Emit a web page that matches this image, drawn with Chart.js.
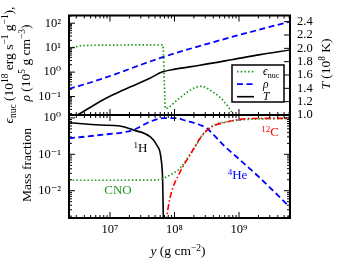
<!DOCTYPE html>
<html><head><meta charset="utf-8">
<script src="https://cdn.jsdelivr.net/npm/chart.js@4.4.1/dist/chart.umd.min.js"></script>
<style>
html,body{margin:0;padding:0;background:#fff;}
#wrap{position:relative;width:341px;height:266px;overflow:hidden;}
canvas{position:absolute;left:0;top:0;}
</style></head><body>
<div id="wrap"><canvas id="cBot" width="341" height="266"></canvas><canvas id="cTop" width="341" height="266"></canvas></div>
<script>
// ---------------- data (column depth y in g cm^-2) ----------------
const epsY = [2.31e6, 2.86e6, 4.09e6, 7.0e6, 2.04e7, 6.6e7, 7.25e7, 1.08e8, 1.55e8, 2.21e8, 2.64e8, 3.55e8, 5.07e8, 6.82e8, 8.17e8, 9.55e8];
const epsV = [8.8, 10.7, 12.3, 12.6, 12.9, 12.9, 0.032, 0.069, 0.147, 0.246, 0.262, 0.182, 0.093, 0.0374, 0.0176, 0.007];
const rhoY = [2.31e6, 7.0e6, 6.6e7, 6.1e8, 6.2e9];
const rhoV = [0.205, 0.50, 4.1, 23, 117];
const tY = [2.31e6, 3.43e6, 7.0e6, 1.11e7, 2.04e7, 4.17e7, 6.4e7, 1.02e8, 2.48e8, 8.07e8, 2.12e9, 6.2e9];
const tV = [0.93, 1.022, 1.203, 1.304, 1.420, 1.551, 1.645, 1.688, 1.746, 1.833, 1.906, 1.975];
const hY = [2.31e6, 7.0e6, 1.43e7, 2.30e7, 4.17e7, 5.30e7, 6.18e7, 6.56e7, 6.70e7, 6.75e7];
const hV = [0.738, 0.638, 0.599, 0.465, 0.305, 0.180, 0.0776, 0.0177, 0.00215, 0.0008];
const heY = [2.31e6, 7.0e6, 2.30e7, 4.17e7, 6.70e7, 1.12e8, 1.37e8, 2.48e8, 3.16e8, 5.71e8, 1.04e9, 2.12e9, 6.2e9];
const heV = [0.275, 0.339, 0.465, 0.787, 0.98, 0.98, 0.875, 0.638, 0.518, 0.180, 0.0697, 0.0223, 0.00345];
const cY = [6.87e7, 8.51e7, 1.22e8, 1.74e8, 2.48e8, 3.55e8, 6.52e8, 1.48e9, 6.2e9];
const cV = [0.00061, 0.0063, 0.0326, 0.095, 0.27, 0.528, 0.771, 0.96, 0.97];
const cnoY = [2.31e6, 1.43e7, 4.99e7, 6.70e7, 8.51e7, 1.22e8, 1.74e8, 2.21e8, 2.67e8, 3.55e8, 7.24e8, 6.2e9];
const cnoV = [0.0194, 0.0194, 0.0196, 0.0219, 0.0270, 0.0412, 0.10, 0.19, 0.33, 0.54, 0.82, 0.975];

// ---------------- tick labels ----------------
const xTicks = [1e7, 1e8, 1e9];
const topTicks = [0.1, 1, 10, 100];
const tTicks = [1.0, 1.2, 1.4, 1.6, 1.8, 2.0, 2.2, 2.4];
const massTicks = [0.01, 0.1, 1];

// ---------------- axis limits ----------------
const X_MIN = 2.314e6, X_MAX = 6.18e9;
const TOP_MIN = 0.01758, TOP_MAX = 207;
const T_MIN = 1.0, T_MAX = 2.493;
const MF_MIN = 0.00178, MF_MAX = 1.2;

// ---------------- styling ----------------
const FONT = "'Liberation Serif','DejaVu Serif',serif";
const GREEN = '#1f9a1f', BLUE = '#0000ff', RED = '#ff0000', BLACK = '#000000';
const MAJ = 6, MIN = 3;

const SUP = '⁰¹²³⁴⁵⁶⁷⁸⁹';
const sup = s => String(s).replace(/-/g, '⁻').replace(/\d/g, d => SUP[d]);
const powLabel = v => '10' + sup(Math.round(Math.log10(v)));
const pts = (xs, vs) => xs.map((x, i) => ({x, y: vs[i]}));

function drawRich(ctx, parts, cx, cy, size, color, rot, align) {
  ctx.save();
  ctx.translate(cx, cy);
  if (rot) ctx.rotate(rot);
  let total = 0;
  const items = parts.map(p => {
    const s = (p.sup || p.sub) ? size * 0.7 : size;
    const font = (p.it ? 'italic ' : '') + s + 'px ' + FONT;
    ctx.font = font;
    const w = ctx.measureText(p.t).width;
    total += w;
    return {p, font, w};
  });
  let x = align === 'left' ? 0 : align === 'right' ? -total : -total / 2;
  ctx.fillStyle = color;
  ctx.textBaseline = 'alphabetic';
  const base = size * 0.33;
  for (const it of items) {
    ctx.font = it.font;
    let y = base;
    if (it.p.sup) y -= size * 0.34;
    if (it.p.sub) y += size * 0.2;
    ctx.fillText(it.p.t, x, y);
    x += it.w;
  }
  ctx.restore();
}

function logTickList(min, max) {
  const out = [];
  for (let e = Math.floor(Math.log10(min)); e <= Math.ceil(Math.log10(max)); e++) {
    for (let m = 1; m <= 9; m++) {
      const v = m * Math.pow(10, e);
      if (v >= min * 0.9999 && v <= max * 1.0001) out.push({v, major: m === 1});
    }
  }
  return out;
}

function drawFrame(chart, leftId, mirror, rightId) {
  const {ctx, chartArea: a} = chart;
  ctx.save();
  ctx.strokeStyle = '#000';
  ctx.lineWidth = 1;
  ctx.beginPath();
  const xs = chart.scales.x;
  for (const t of logTickList(xs.min, xs.max)) {
    const p = xs.getPixelForValue(t.v), L = t.major ? MAJ : MIN;
    ctx.moveTo(p, a.top); ctx.lineTo(p, a.top + L);
    ctx.moveTo(p, a.bottom); ctx.lineTo(p, a.bottom - L);
  }
  const yl = chart.scales[leftId];
  for (const t of logTickList(yl.min, yl.max)) {
    const p = yl.getPixelForValue(t.v), L = t.major ? MAJ : MIN;
    ctx.moveTo(a.left, p); ctx.lineTo(a.left + L, p);
    if (mirror) { ctx.moveTo(a.right, p); ctx.lineTo(a.right - L, p); }
  }
  if (rightId) {
    const yr = chart.scales[rightId];
    for (const t of yr.ticks) {
      const p = yr.getPixelForValue(t.value);
      ctx.moveTo(a.right, p); ctx.lineTo(a.right - MAJ, p);
    }
  }
  ctx.stroke();
  ctx.lineWidth = 2;
  ctx.strokeRect(a.left, a.top, a.right - a.left, a.bottom - a.top);
  ctx.restore();
}

function drawLegend(chart) {
  const {ctx, chartArea: a} = chart;
  const w = 52, h = 37;
  const x0 = a.right - 6 - w, y0 = a.bottom - 13 - h;
  ctx.save();
  ctx.fillStyle = '#fff'; ctx.fillRect(x0, y0, w, h);
  ctx.strokeStyle = '#000'; ctx.lineWidth = 1.5; ctx.strokeRect(x0, y0, w, h);
  chart.data.datasets.forEach((ds, i) => {
    const y = y0 + 6.7 + i * 12.5;
    ctx.beginPath();
    ctx.setLineDash(ds.borderDash || []);
    ctx.strokeStyle = ds.borderColor; ctx.lineWidth = ds.borderWidth;
    ctx.moveTo(x0 + 5, y); ctx.lineTo(x0 + 22, y); ctx.stroke();
    ctx.setLineDash([]);
    drawRich(ctx, ds.rich, x0 + 31, y, 11.5, '#000', 0, 'left');
  });
  ctx.restore();
}

const titleEps = [{t:'ϵ',it:1},{t:'nuc',sub:1},{t:' (10'},{t:'18',sup:1},{t:' erg s'},{t:'−1',sup:1},{t:' g'},{t:'−1',sup:1},{t:'),'}];
const titleRho = [{t:'ρ',it:1},{t:' (10'},{t:'5',sup:1},{t:' g cm'},{t:'−3',sup:1},{t:')'}];
const titleT = [{t:'T',it:1},{t:' (10'},{t:'8',sup:1},{t:' K)'}];
const titleMF = [{t:'Mass fraction'}];
const titleX = [{t:'y',it:1},{t:' (g cm'},{t:'−2',sup:1},{t:')'}];

const notes = [
  {parts:[{t:'1',sup:1},{t:'H'}], x:2.97e7, y:0.149, color:BLACK},
  {parts:[{t:'CNO'}], x:1.33e7, y:0.0105, color:GREEN},
  {parts:[{t:'4',sup:1},{t:'He'}], x:9.48e8, y:0.027, color:BLUE},
  {parts:[{t:'12',sup:1},{t:'C'}], x:3.03e9, y:0.41, color:RED}
];

const common = {pointRadius: 0, fill: false, cubicInterpolationMode: 'monotone', clip: 0};
const tickFont = {family: FONT, size: 12.5};
const noGrid = {display: false, drawTicks: false, tickLength: 0};

const topPlugin = {
  id: 'topDecor',
  afterDraw(chart) {
    drawFrame(chart, 'yL', false, 'yR');
    drawLegend(chart);
    const ctx = chart.ctx;
    drawRich(ctx, titleEps, 8.5, 65, 13.5, '#000', -Math.PI / 2);
    drawRich(ctx, titleRho, 25.2, 63, 13.5, '#000', -Math.PI / 2);
    drawRich(ctx, titleT, 325.5, 64, 13.5, '#000', -Math.PI / 2);
  }
};
const botPlugin = {
  id: 'botDecor',
  afterDraw(chart) {
    drawFrame(chart, 'yB', true, null);
    const ctx = chart.ctx;
    const xs = chart.scales.x, ys = chart.scales.yB;
    for (const n of notes) drawRich(ctx, n.parts, xs.getPixelForValue(n.x), ys.getPixelForValue(n.y), 13, n.color, 0);
    drawRich(ctx, titleMF, 27, 165, 13.5, '#000', -Math.PI / 2);
    drawRich(ctx, titleX, 178, 251, 13.5, '#000', 0);
  }
};

new Chart(document.getElementById('cTop'), {
  type: 'line',
  data: {datasets: [
    Object.assign({label: 'ϵ_nuc', rich: [{t:'ϵ',it:1},{t:'nuc',sub:1}], data: pts(epsY, epsV), yAxisID: 'yL', borderColor: GREEN, borderDash: [1.5, 2.2], borderWidth: 1.7}, common),
    Object.assign({label: 'ρ', rich: [{t:'ρ',it:1}], data: pts(rhoY, rhoV), yAxisID: 'yL', borderColor: BLUE, borderDash: [6, 3.5], borderWidth: 1.8}, common),
    Object.assign({label: 'T', rich: [{t:'T',it:1}], data: pts(tY, tV), yAxisID: 'yR', borderColor: BLACK, borderWidth: 1.6}, common)
  ]},
  options: {
    responsive: false, animation: false, devicePixelRatio: 1,
    layout: {padding: {top: 12, bottom: 151, left: 0, right: 0}, autoPadding: false},
    plugins: {legend: {display: false}, tooltip: {enabled: false}},
    scales: {
      x: {type: 'logarithmic', min: X_MIN, max: X_MAX, display: false},
      yL: {type: 'logarithmic', position: 'left', min: TOP_MIN, max: TOP_MAX,
        grid: noGrid, border: {display: false},
        ticks: {font: tickFont, color: '#000', padding: 8, autoSkip: false, callback: v => powLabel(v)},
        afterBuildTicks: s => { s.ticks = topTicks.map(v => ({value: v})); },
        afterFit: s => { s.width = 69; }},
      yR: {type: 'linear', position: 'right', min: T_MIN, max: T_MAX,
        grid: noGrid, border: {display: false},
        ticks: {font: tickFont, color: '#000', padding: 7, autoSkip: false, callback: v => Number(v).toFixed(1)},
        afterBuildTicks: s => { s.ticks = tTicks.map(v => ({value: v})); },
        afterFit: s => { s.width = 51; }}
    }
  },
  plugins: [topPlugin]
});

new Chart(document.getElementById('cBot'), {
  type: 'line',
  data: {datasets: [
    Object.assign({label: '12C', data: pts(cY, cV), yAxisID: 'yB', borderColor: RED, borderDash: [6, 2.5, 1.5, 2.5], borderWidth: 1.6}, common),
    Object.assign({label: 'CNO', data: pts(cnoY, cnoV), yAxisID: 'yB', borderColor: GREEN, borderDash: [1.5, 2.2], borderWidth: 1.7}, common),
    Object.assign({label: '1H', data: pts(hY, hV), yAxisID: 'yB', borderColor: BLACK, borderWidth: 1.6}, common),
    Object.assign({label: '4He', data: pts(heY, heV), yAxisID: 'yB', borderColor: BLUE, borderDash: [6, 3.5], borderWidth: 1.8}, common)
  ]},
  options: {
    responsive: false, animation: false, devicePixelRatio: 1,
    layout: {padding: {top: 115, bottom: 0, left: 0, right: 51}, autoPadding: false},
    plugins: {legend: {display: false}, tooltip: {enabled: false}},
    scales: {
      x: {type: 'logarithmic', position: 'bottom', min: X_MIN, max: X_MAX,
        grid: noGrid, border: {display: false},
        ticks: {font: tickFont, color: '#000', padding: 4, autoSkip: false, maxRotation: 0, callback: v => powLabel(v)},
        afterBuildTicks: s => { s.ticks = xTicks.map(v => ({value: v})); },
        afterFit: s => { s.height = 48; }},
      yB: {type: 'logarithmic', position: 'left', min: MF_MIN, max: MF_MAX,
        grid: noGrid, border: {display: false},
        ticks: {font: tickFont, color: '#000', padding: 8, autoSkip: false, callback: v => powLabel(v)},
        afterBuildTicks: s => { s.ticks = massTicks.map(v => ({value: v})); },
        afterFit: s => { s.width = 69; }}
    }
  },
  plugins: [botPlugin]
});
</script>
</body></html>
